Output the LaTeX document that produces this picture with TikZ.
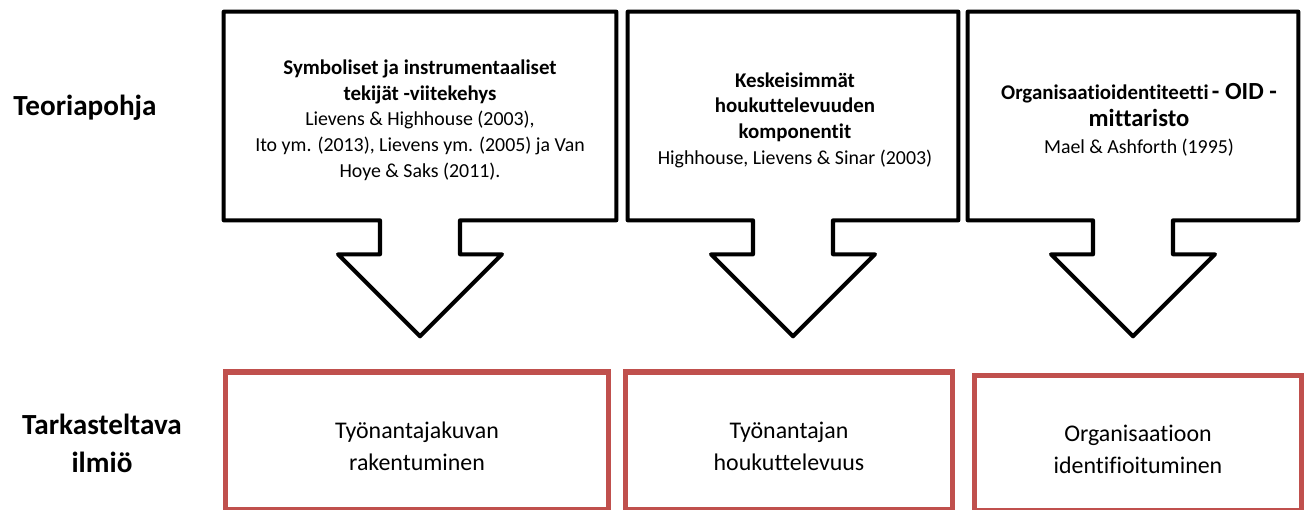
\documentclass[tikz,border=0pt]{standalone}
\usepackage{fontspec}
\setmainfont{Carlito}[Ligatures=CommonOff]
\usepackage{xcolor}
\usepackage{tikz}
\usetikzlibrary{calc}
\definecolor{boxred}{RGB}{192, 80, 77}

\tikzset{
    theory/.style={minimum width=6.6cm, minimum height=4.16cm, align=center,
        font=\fontsize{11.3}{14.6}\selectfont},
    callout/.style={draw=black, line width=2.3pt, line join=round},
    phenom/.style={draw=boxred, line width=3pt, minimum width=6.53cm, minimum height=2.76cm,
        align=center, font=\fontsize{13.6}{18.2}\selectfont},
    rowlabel/.style={align=center, font=\fontsize{16.6}{21.5}\selectfont\bfseries}
}

% bold heading in the boxes
\newcommand{\hd}[1]{{\fontsize{11.9}{14.6}\selectfont\bfseries #1}}

% outline of a box with a down arrow below it
\newcommand{\downcallout}[1]{
    \draw[callout] (#1.south west) -- (#1.north west) -- (#1.north east) -- (#1.south east)
        -- ($(#1.south)+(40,0)$) -- ++(0,34) -- ++(42,0) -- ($(#1.south)+(0,116)$)
        -- ($(#1.south)+(-82,34)$) -- ++(42,0) -- ++(0,-34) -- cycle;
}

\begin{document}
\begin{tikzpicture}[x=0.02cm, y=-0.02cm]
    \useasboundingbox (0,0) rectangle (1306,510);

    % Row labels
    \node[rowlabel] (theoryrow) at (85,108) {Teoriapohja};
    \node[rowlabel] (phenomrow) at (102,443) {Tarkasteltava\\ilmiö};

    % Symbolic and instrumental factors
    \node[theory, minimum width=7.84cm] (symbolic) at (420,116) {};
    \node[align=center, font=\fontsize{11.3}{14.6}\selectfont] (symtext) at (420,120)
        {\hd{Symboliset ja instrumentaaliset}\\\hd{tekijät -viitekehys}\\
         Lievens \& Highhouse (2003),\\Ito ym. (2013), Lievens ym. (2005) ja Van\\
         Hoye \& Saks (2011).};
    \downcallout{symbolic}

    % Attractiveness components
    \node[theory] (attract) at (793,116) {};
    \node[align=center, font=\fontsize{11.3}{14.6}\selectfont] (attrtext) at (795,120)
        {\hd{Keskeisimmät}\\\hd{houkuttelevuuden}\\\hd{komponentit}\\
         Highhouse, Lievens \& Sinar (2003)};
    \downcallout{attract}

    % OID scale
    \node[theory] (oid) at (1133,116) {};
    \node[align=center, font=\fontsize{11.3}{15.5}\selectfont] (oidtext) at (1139,120)
        {\hd{Organisaatioidentiteetti}\,{\fontsize{14}{15.5}\selectfont\bfseries - OID -}\\
         {\fontsize{14}{15.5}\selectfont\bfseries mittaristo}\\Mael \& Ashforth (1995)};
    \downcallout{oid}

    % Phenomena
    \node[phenom, minimum width=7.67cm] (image) at (417,441) {};
    \node[align=center, font=\fontsize{13.6}{18.2}\selectfont] at (417,446) {Työnantajakuvan\\rakentuminen};
    \node[phenom] (attractive) at (789,441) {};
    \node[align=center, font=\fontsize{13.6}{18.2}\selectfont] at (789,446) {Työnantajan\\houkuttelevuus};
    \node[phenom, minimum height=2.7cm] (identify) at (1138,443) {};
    \node[align=center, font=\fontsize{13.6}{18.2}\selectfont] at (1138,449) {Organisaatioon\\identifioituminen};
\end{tikzpicture}
\end{document}
